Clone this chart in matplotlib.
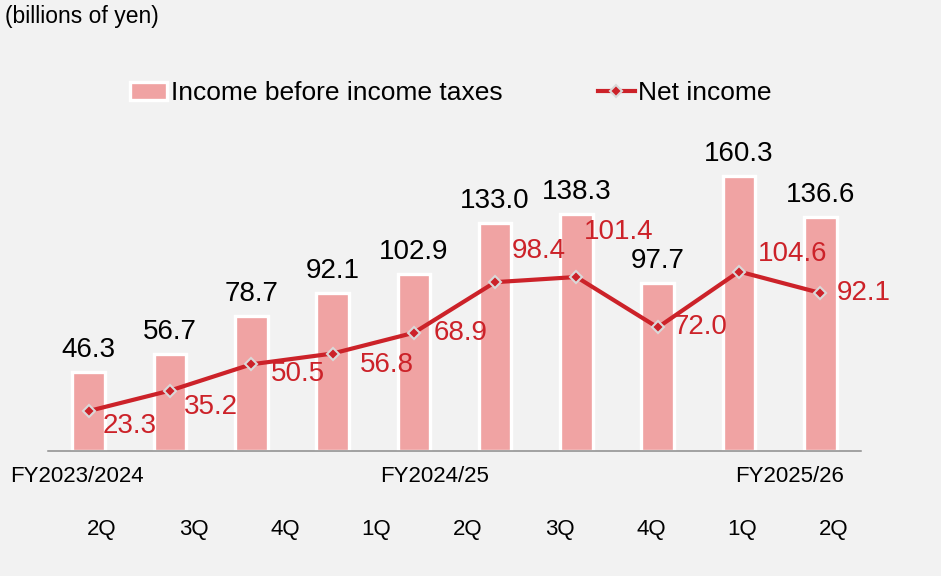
import numpy as np
import matplotlib.pyplot as plt
from matplotlib.lines import Line2D
from matplotlib.patches import Patch

# Data
periods = ["FY23 2Q", "FY23 3Q", "FY23 4Q", "FY24 1Q", "FY24 2Q",
           "FY24 3Q", "FY24 4Q", "FY25 1Q", "FY25 2Q", "FY25 3Q"]
income_before_tax = [46.3, 56.7, 78.7, 92.1, 102.9, 133.0, 138.3, 97.7, 160.3, 136.6]
net_income = [23.3, 35.2, 50.5, 56.8, 68.9, 98.4, 101.4, 72.0, 104.6, 92.1]
quarter_labels = ["2Q", "3Q", "4Q", "1Q", "2Q", "3Q", "4Q", "1Q", "2Q"]
fy_labels = ["FY2023/2024", "FY2024/25", "FY2025/26"]

# Layout (pixels)
net_offsets = [(14, -15), (14, -16), (20, -10), (27, -11), (20, 0),
               (17, 31), (7, 45), (16, 0), (19, 18), (16, 0)]
fy_x = [10, 380, 735]

BG = "#F2F2F2"
BAR = "#F0A3A3"
RED = "#CC2229"

plt.rcParams["font.family"] = ["Liberation Sans", "DejaVu Sans"]

W, H = 941, 576
fig = plt.figure(figsize=(W / 100, H / 100), dpi=100, facecolor=BG)
ax = fig.add_axes([48 / W, 1 - 451 / H, (861 - 48) / W, (451 - 73.5) / H])
ax.set_facecolor(BG)

x = np.arange(len(periods))
bars = ax.bar(x, income_before_tax, width=0.4, color=BAR, edgecolor="white",
              linewidth=2.4, zorder=2, label="Income before income taxes")
ax.plot(x, net_income, color=RED, linewidth=3, marker="D", markersize=6.5,
        markerfacecolor=RED, markeredgecolor="#D9D9D9", markeredgewidth=1.5,
        zorder=3)

for xi, v in zip(x, income_before_tax):
    ax.annotate(f"{v:.1f}", (xi, v), xytext=(0, 15), textcoords="offset pixels",
                ha="center", va="baseline", fontsize=20, color="black")

for xi, v, (dx, dy) in zip(x, net_income, net_offsets):
    ax.annotate(f"{v:.1f}", (xi, v), xytext=(dx, dy), textcoords="offset pixels",
                ha="left", va="center", fontsize=20, color=RED, zorder=4)

ax.set_xlim(-0.5, 9.5)
ax.set_ylim(0, 220)
for s in ["top", "right", "left"]:
    ax.spines[s].set_visible(False)
ax.spines["bottom"].set_color("#8C8C8C")
ax.spines["bottom"].set_linewidth(1.1)
ax.set_xticks([])
ax.set_yticks([])

# Category table below the axis
for i, q in enumerate(quarter_labels):
    fig.text((102 + 91.5 * i) / W, 1 - 530 / H, q, ha="center", va="center",
             fontsize=16)
for fx, lab in zip(fy_x, fy_labels):
    fig.text(fx / W, 1 - 477 / H, lab, ha="left", va="center", fontsize=16)

fig.text(5 / W, 1 - 17 / H, "(billions of yen)", ha="left", va="center",
         fontsize=16.5)

handles = [Patch(facecolor=BAR, edgecolor="white", linewidth=2.4),
           Line2D([], [], color=RED, linewidth=3, marker="D", markersize=6.5,
                  markerfacecolor=RED, markeredgecolor="#D9D9D9",
                  markeredgewidth=1.5)]
fig.legend(handles, ["Income before income taxes", "Net income"],
           loc="center", bbox_to_anchor=(451 / W, 1 - 93 / H), ncol=2,
           frameon=False, fontsize=19, handlelength=1.4, handletextpad=0.15,
           columnspacing=3.6, borderpad=0)

fig.savefig("out.png", dpi=100, facecolor=BG)
